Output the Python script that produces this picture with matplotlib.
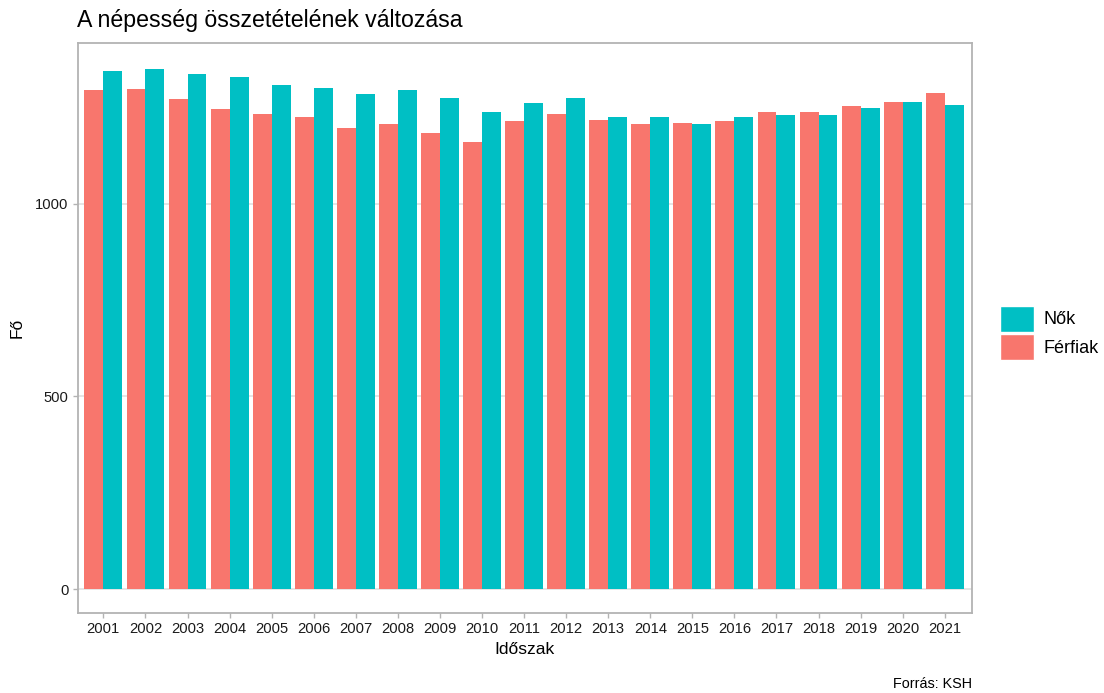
import matplotlib
matplotlib.use("Agg")
import matplotlib.pyplot as plt
import numpy as np
from matplotlib.patches import Patch

plt.rcParams['font.family'] = ['Liberation Sans', 'DejaVu Sans']

years = [str(y) for y in range(2001, 2022)]
ferfiak = [1295, 1299, 1273, 1246, 1234, 1226, 1197, 1207, 1184, 1162, 1215,
           1234, 1219, 1207, 1211, 1216, 1238, 1238, 1253, 1264, 1287]
nok = [1345, 1351, 1336, 1329, 1310, 1302, 1286, 1295, 1275, 1238, 1261,
       1275, 1226, 1226, 1207, 1226, 1230, 1230, 1249, 1264, 1256]
yticks = [0, 500, 1000]

col_f = '#F8766D'
col_n = '#00BFC4'

fig = plt.figure(figsize=(11.04, 6.93), dpi=100)
W, H = 1104, 693
ax = fig.add_axes([77.7 / W, 1 - 613.3 / H, (971.7 - 77.7) / W, (613.3 - 43.3) / H])

x = np.arange(len(years))
bw = 0.45
ax.bar(x - bw / 2, ferfiak, width=bw, color=col_f, zorder=2)
ax.bar(x + bw / 2, nok, width=bw, color=col_n, zorder=2)

ax.set_xlim(-0.61, 20.64)
ax.set_ylim(-63, 1417)
ax.set_xticks(x)
ax.set_xticklabels(years)
ax.set_yticks(yticks)
ax.set_yticklabels([str(v) for v in yticks])

for v in yticks:
    ax.axhline(v, color='#DEDEDE', lw=1.1, zorder=1)

for s in ax.spines.values():
    s.set_color('#B3B3B3')
    s.set_linewidth(1.3)

ax.tick_params(axis='both', colors='#B3B3B3', length=3.5, width=1, labelsize=10.6,
               labelcolor='#1A1A1A', pad=3)

ax.set_xlabel('Időszak', fontsize=12.5, color='black', labelpad=4)
ax.set_ylabel('Fő', fontsize=12.5, color='black', labelpad=8)

fig.text(77 / W, 1 - 21 / H, 'A népesség összetételének változása', fontsize=16.7,
         ha='left', va='center', color='black')
fig.text(972 / W, 1 - 684 / H, 'Forrás: KSH', fontsize=10.4, ha='right',
         va='center', color='black')

handles = [Patch(facecolor=col_n, edgecolor='white', label='Nők'),
           Patch(facecolor=col_f, edgecolor='white', label='Férfiak')]
leg = fig.legend(handles=handles, loc='center left', bbox_to_anchor=(993 / W, 1 - 333 / H),
                 frameon=False, fontsize=13, handlelength=1.85, handleheight=1.85,
                 handletextpad=0.55, labelspacing=0.15, borderaxespad=0)

fig.savefig('out.png', dpi=100)
